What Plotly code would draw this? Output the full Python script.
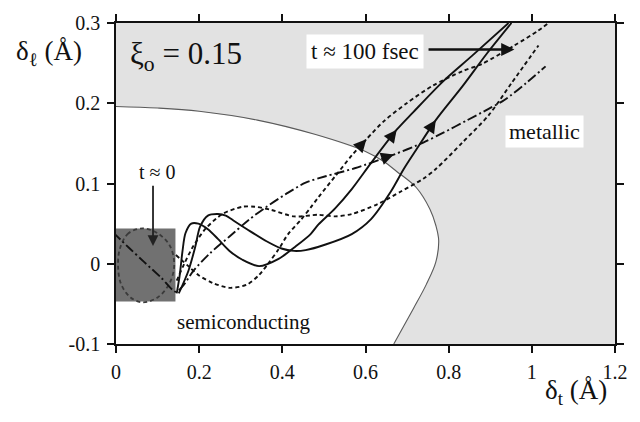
import plotly.graph_objects as go

# ---------------- data ----------------
# phase boundary between semiconducting (inside) and metallic (outside)
bnd_x = [0.0, 0.1, 0.2, 0.34, 0.48, 0.6, 0.645, 0.675, 0.722, 0.755, 0.769, 0.776, 0.769, 0.746, 0.715, 0.668]
bnd_y = [0.196, 0.194, 0.190, 0.179, 0.161, 0.140, 0.127, 0.115, 0.095, 0.068, 0.048, 0.029, 0.002, -0.026, -0.056, -0.1]

# initial-condition box (t ~ 0)
box_x = [-0.014, 0.143]
box_y = [-0.047, 0.044]

# dashed loop inside the initial box
loop_x = [0.064, 0.030, 0.010, 0.005, 0.012, 0.035, 0.064, 0.100, 0.128, 0.140, 0.130, 0.100, 0.064]
loop_y = [0.044, 0.038, 0.020, -0.002, -0.025, -0.042, -0.048, -0.042, -0.025, -0.002, 0.022, 0.038, 0.044]

# solid trajectory 1
s1_x = [0.146, 0.153, 0.160, 0.167, 0.181, 0.198, 0.221, 0.245, 0.273, 0.304, 0.344, 0.391, 0.433, 0.468,
        0.487, 0.527, 0.567, 0.614, 0.675, 0.715, 0.786, 0.856, 0.944]
s1_y = [-0.037, -0.015, 0.016, 0.038, 0.050, 0.050, 0.043, 0.031, 0.016, 0.005, -0.003, 0.006, 0.022, 0.037,
        0.049, 0.069, 0.093, 0.126, 0.167, 0.189, 0.227, 0.259, 0.300]

# solid trajectory 2
s2_x = [0.151, 0.174, 0.191, 0.202, 0.221, 0.245, 0.264, 0.285, 0.315, 0.362, 0.398, 0.428, 0.456, 0.504,
        0.567, 0.614, 0.661, 0.692, 0.722, 0.769, 0.833, 0.892, 0.951]
s2_y = [-0.037, -0.009, 0.022, 0.046, 0.060, 0.062, 0.060, 0.053, 0.043, 0.028, 0.019, 0.016, 0.017, 0.024,
        0.037, 0.056, 0.090, 0.118, 0.142, 0.179, 0.221, 0.262, 0.300]

# dashed trajectory 1
d1_x = [0.144, 0.174, 0.198, 0.233, 0.273, 0.315, 0.344, 0.367, 0.391, 0.414, 0.445, 0.468, 0.487, 0.527,
        0.567, 0.602, 0.645, 0.699, 0.762, 0.833, 0.880, 0.958, 1.014, 1.040]
d1_y = [0.011, -0.003, -0.014, -0.024, -0.030, -0.026, -0.014, 0.001, 0.018, 0.037, 0.055, 0.070, 0.083, 0.109,
        0.135, 0.155, 0.178, 0.200, 0.222, 0.240, 0.249, 0.272, 0.290, 0.300]

# dashed trajectory 2
d2_x = [0.146, 0.165, 0.186, 0.216, 0.256, 0.304, 0.334, 0.374, 0.428, 0.487, 0.527, 0.567, 0.628, 0.685,
        0.739, 0.769, 0.833, 0.896, 0.951, 1.016]
d2_y = [-0.021, 0.001, 0.022, 0.044, 0.062, 0.071, 0.071, 0.067, 0.059, 0.061, 0.059, 0.062, 0.074, 0.090,
        0.106, 0.118, 0.151, 0.185, 0.225, 0.272]

# dash-dot trajectory
dd_x = [-0.007, 0.033, 0.068, 0.108, 0.144, 0.162, 0.186, 0.226, 0.273, 0.320, 0.362, 0.409, 0.456, 0.504,
        0.574, 0.668, 0.739, 0.786, 0.845, 0.896, 0.934, 0.986, 1.033]
dd_y = [0.039, 0.019, 0.002, -0.017, -0.035, -0.027, -0.009, 0.013, 0.034, 0.055, 0.071, 0.087, 0.101, 0.109,
        0.119, 0.136, 0.151, 0.163, 0.179, 0.193, 0.204, 0.225, 0.246]

# index of the point on each trajectory that carries a direction arrow
arrow_idx = {"s1": 18, "s2": 19, "d1": 15, "d2": 15, "dd": 15}

x_ticks = [0, 0.2, 0.4, 0.6, 0.8, 1.0, 1.2]
x_tick_text = ["0", "0.2", "0.4", "0.6", "0.8", "1", "1.2"]
y_ticks = [-0.1, 0, 0.1, 0.2, 0.3]
y_tick_text = ["-0.1", "0", "0.1", "0.2", "0.3"]

# ---------------- figure ----------------
SERIF = "Liberation Serif"
INK = "#111111"
fig = go.Figure()

# semiconducting (white) region inside the boundary
fig.add_trace(go.Scatter(
    x=bnd_x + [0.0, 0.0], y=bnd_y + [-0.1, bnd_y[0]],
    mode="lines", fill="toself", fillcolor="white",
    line=dict(width=0), hoverinfo="skip", showlegend=False))
# boundary line
fig.add_trace(go.Scatter(
    x=bnd_x, y=bnd_y, mode="lines", line=dict(color="#5a5a5a", width=1.1, shape="spline"),
    hoverinfo="skip", showlegend=False))
# initial box
fig.add_trace(go.Scatter(
    x=[box_x[0], box_x[1], box_x[1], box_x[0], box_x[0]],
    y=[box_y[0], box_y[0], box_y[1], box_y[1], box_y[0]],
    mode="lines", fill="toself", fillcolor="#717171", line=dict(width=0, color="#717171"),
    hoverinfo="skip", showlegend=False))
# dashed loop inside the box
fig.add_trace(go.Scatter(
    x=loop_x, y=loop_y, mode="lines",
    line=dict(color="#3a3a3a", width=1.8, dash="4px,3px", shape="spline", smoothing=1),
    hoverinfo="skip", showlegend=False))

curves = {
    "s1": (s1_x, s1_y, "solid"),
    "s2": (s2_x, s2_y, "solid"),
    "d1": (d1_x, d1_y, "4px,3px"),
    "d2": (d2_x, d2_y, "4px,3px"),
    "dd": (dd_x, dd_y, "10px,3px,2px,3px"),
}
for key, (cx, cy, dash) in curves.items():
    fig.add_trace(go.Scatter(
        x=cx, y=cy, mode="lines",
        line=dict(color=INK, width=1.9, dash=dash, shape="spline", smoothing=0.8),
        hoverinfo="skip", showlegend=False))
    i = arrow_idx[key]
    tx = cx[i] - 0.3 * (cx[i] - cx[i - 1])
    ty = cy[i] - 0.3 * (cy[i] - cy[i - 1])
    fig.add_annotation(x=cx[i], y=cy[i], ax=tx, ay=ty, axref="x", ayref="y",
                       xref="x", yref="y", text="", showarrow=True,
                       arrowhead=2, arrowsize=1.6, arrowwidth=1.6, arrowcolor=INK)

# labels
fig.add_annotation(x=0.028, y=0.259, xref="x", yref="y", xanchor="left", yanchor="middle",
                   text="ξ<sub>o</sub> = 0.15", showarrow=False,
                   font=dict(family=SERIF, size=31, color=INK))
fig.add_annotation(x=0.598, y=0.265, xref="x", yref="y", text="t ≈ 100 fsec", showarrow=False,
                   bgcolor="white", borderpad=4, font=dict(family=SERIF, size=23, color=INK))
fig.add_annotation(x=0.958, y=0.267, ax=0.748, ay=0.267, xref="x", yref="y", axref="x", ayref="y",
                   text="", showarrow=True, arrowhead=2, arrowsize=1.1, arrowwidth=2.4,
                   arrowcolor=INK)
fig.add_annotation(x=0.099, y=0.114, xref="x", yref="y", text="t ≈ 0", showarrow=False,
                   font=dict(family=SERIF, size=20, color=INK))
fig.add_annotation(x=0.089, y=0.022, ax=0.089, ay=0.099, xref="x", yref="y", axref="x", ayref="y",
                   text="", showarrow=True, arrowhead=2, arrowsize=1.2, arrowwidth=1.8,
                   arrowcolor="#222222")
fig.add_annotation(x=1.03, y=0.165, xref="x", yref="y", text="metallic", showarrow=False,
                   bgcolor="white", borderpad=3, font=dict(family=SERIF, size=22, color=INK))
fig.add_annotation(x=0.306, y=-0.072, xref="x", yref="y", text="semiconducting", showarrow=False,
                   font=dict(family=SERIF, size=21, color=INK))

# axis titles
fig.add_annotation(x=-0.205, y=0.905, xref="paper", yref="paper", xanchor="left", yanchor="middle",
                   text="δ<sub>ℓ</sub> (Å)", showarrow=False,
                   font=dict(family=SERIF, size=27, color=INK))
fig.add_annotation(x=0.855, y=-0.15, xref="paper", yref="paper", xanchor="left", yanchor="middle",
                   text="δ<sub>t</sub> (Å)", showarrow=False,
                   font=dict(family=SERIF, size=27, color=INK))

axis_common = dict(showline=True, linecolor=INK, linewidth=1.6, mirror="ticks",
                   ticks="outside", ticklen=7, tickwidth=1.6, tickcolor=INK,
                   showgrid=False, zeroline=False,
                   tickfont=dict(family=SERIF, size=20, color=INK))
fig.update_xaxes(range=[0, 1.2], tickvals=x_ticks, ticktext=x_tick_text, ticklabelstandoff=2,
                 **axis_common)
fig.update_yaxes(range=[-0.1, 0.3], tickvals=y_ticks, ticktext=y_tick_text, ticklabelstandoff=3,
                 **axis_common)

fig.update_layout(width=640, height=422, margin=dict(l=116, r=14, t=19, b=78),
                  font=dict(family=SERIF, color=INK),
                  paper_bgcolor="white", plot_bgcolor="#e2e2e2", showlegend=False)

fig.write_html("out.html")
